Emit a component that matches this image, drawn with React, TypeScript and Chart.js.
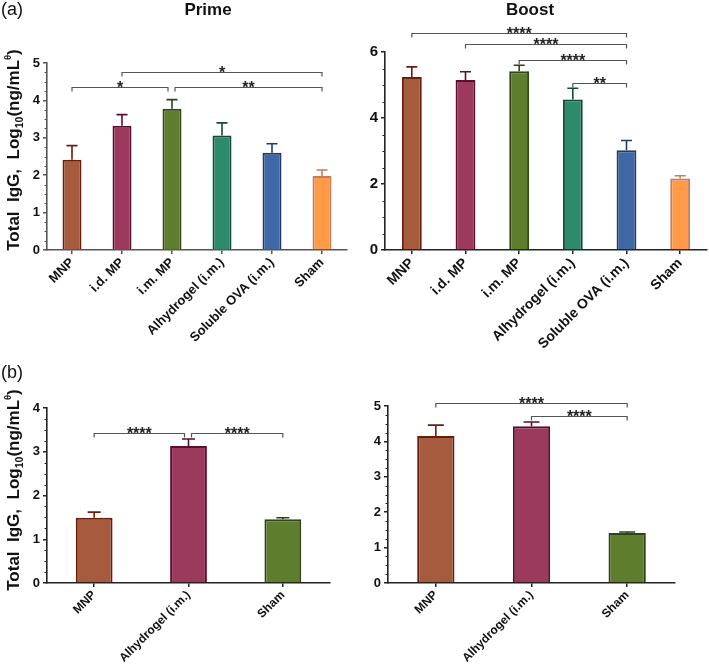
import React, { useEffect, useRef } from 'react';
import { Chart, registerables } from 'chart.js';

Chart.register(...registerables);

const FONT = "'Liberation Sans', Arial, Helvetica, sans-serif";

// ---------- data ----------
const PRIME_LABELS = ['MNP', 'i.d. MP', 'i.m. MP', 'Alhydrogel (i.m.)', 'Soluble OVA (i.m.)', 'Sham'];
const PRIME_MEANS = [2.41, 3.32, 3.78, 3.06, 2.6, 1.98];
const PRIME_ERRORS = [0.38, 0.3, 0.24, 0.34, 0.24, 0.16];

const BOOST_LABELS = ['MNP', 'i.d. MP', 'i.m. MP', 'Alhydrogel (i.m.)', 'Soluble OVA (i.m.)', 'Sham'];
const BOOST_MEANS = [5.24, 5.15, 5.42, 4.56, 3.02, 2.17];
const BOOST_ERRORS = [0.31, 0.25, 0.18, 0.34, 0.3, 0.08];

const B_LABELS = ['MNP', 'Alhydrogel (i.m.)', 'Sham'];
const B_PRIME_MEANS = [1.49, 3.13, 1.46];
const B_PRIME_ERRORS = [0.13, 0.16, 0.03];
const B_BOOST_MEANS = [4.15, 4.43, 1.41];
const B_BOOST_ERRORS = [0.31, 0.12, 0.03];

type Sig = { from: number; to: number; y: number; label: string };
const PRIME_SIG: Sig[] = [
  { from: 0, to: 2, y: 4.37, label: '*' },
  { from: 1, to: 5, y: 4.77, label: '*' },
  { from: 2, to: 5, y: 4.37, label: '**' },
];
const BOOST_SIG: Sig[] = [
  { from: 0, to: 4, y: 6.58, label: '****' },
  { from: 1, to: 4, y: 6.24, label: '****' },
  { from: 2, to: 4, y: 5.75, label: '****' },
  { from: 3, to: 4, y: 5.05, label: '**' },
];
const B_PRIME_SIG: Sig[] = [
  { from: 0, to: 1, y: 3.43, label: '****' },
  { from: 1, to: 2, y: 3.43, label: '****' },
];
const B_BOOST_SIG: Sig[] = [
  { from: 0, to: 2, y: 5.08, label: '****' },
  { from: 1, to: 2, y: 4.72, label: '****' },
];

// ---------- styles ----------
const C_MNP = { fill: '#A65A3E', border: '#6B1D0C' };
const C_ID = { fill: '#9C3A5E', border: '#5B0E2E' };
const C_IM = { fill: '#5E7E2D', border: '#2D4514' };
const C_ALHY = { fill: '#2D8B6C', border: '#124A3A' };
const C_SOL = { fill: '#4068A6', border: '#1F3B6A' };
const C_SHAM = { fill: '#FF9A47', border: '#C77B5C' };
const TOP_COLORS = [C_MNP, C_ID, C_IM, C_ALHY, C_SOL, C_SHAM];
const BOTTOM_COLORS = [C_MNP, C_ID, C_IM];

type Box = { left: number; top: number; width: number; height: number };
type Area = { left: number; top: number; right: number; bottom: number };

type Panel = {
  labels: string[];
  means: number[];
  errors: number[];
  colors: { fill: string; border: string }[];
  sig: Sig[];
  yMax: number;
  yStep: number;
  minorStep: number;
  canvas: Box;
  area: Area;
  yAxisWidth: number;
  xAxisHeight: number;
  yFont: number;
  xFont: number;
  capWidth: number;
  axisColor: string;
  starFont: number;
  barPct: number;
};

const PANELS: Panel[] = [
  {
    labels: PRIME_LABELS, means: PRIME_MEANS, errors: PRIME_ERRORS, colors: TOP_COLORS, sig: PRIME_SIG,
    yMax: 5, yStep: 1, minorStep: 0.25,
    canvas: { left: 0, top: 0, width: 355, height: 360 },
    area: { left: 47, top: 63, right: 347, bottom: 250 },
    yAxisWidth: 30, xAxisHeight: 100, yFont: 13, xFont: 13, capWidth: 11, axisColor: '#555', starFont: 16, barPct: 0.38,
  },
  {
    labels: BOOST_LABELS, means: BOOST_MEANS, errors: BOOST_ERRORS, colors: TOP_COLORS, sig: BOOST_SIG,
    yMax: 6, yStep: 2, minorStep: 0.5,
    canvas: { left: 355, top: 0, width: 354, height: 360 },
    area: { left: 385, top: 52, right: 707, bottom: 250 },
    yAxisWidth: 26, xAxisHeight: 100, yFont: 15, xFont: 14, capWidth: 11, axisColor: '#222', starFont: 16, barPct: 0.37,
  },
  {
    labels: B_LABELS, means: B_PRIME_MEANS, errors: B_PRIME_ERRORS, colors: BOTTOM_COLORS, sig: B_PRIME_SIG,
    yMax: 4, yStep: 1, minorStep: 0.25,
    canvas: { left: 0, top: 360, width: 355, height: 311 },
    area: { left: 47, top: 408, right: 330, bottom: 583 },
    yAxisWidth: 30, xAxisHeight: 80, yFont: 13, xFont: 12, capWidth: 13, axisColor: '#222', starFont: 16, barPct: 0.39,
  },
  {
    labels: B_LABELS, means: B_BOOST_MEANS, errors: B_BOOST_ERRORS, colors: BOTTOM_COLORS, sig: B_BOOST_SIG,
    yMax: 5, yStep: 1, minorStep: 0.25,
    canvas: { left: 355, top: 360, width: 354, height: 311 },
    area: { left: 388, top: 406, right: 675, bottom: 583 },
    yAxisWidth: 26, xAxisHeight: 80, yFont: 13, xFont: 12, capWidth: 16, axisColor: '#222', starFont: 16, barPct: 0.39,
  },
];

function BarPanel({ p }: { p: Panel }) {
  const ref = useRef<HTMLCanvasElement | null>(null);
  useEffect(() => {
    if (!ref.current) return;
    const { canvas, area } = p;
    const padding = {
      left: area.left - canvas.left - p.yAxisWidth,
      right: canvas.left + canvas.width - area.right,
      top: area.top - canvas.top,
      bottom: canvas.top + canvas.height - area.bottom - p.xAxisHeight,
    };

    const errorBars = {
      id: 'errorBars',
      beforeDatasetsDraw(chart: any) {
        const meta = chart.getDatasetMeta(0);
        const ys = chart.scales.y;
        const ctx = chart.ctx;
        meta.data.forEach((bar: any, i: number) => {
          const yBar = ys.getPixelForValue(p.means[i]);
          const yTop = ys.getPixelForValue(p.means[i] + p.errors[i]);
          ctx.save();
          ctx.strokeStyle = p.colors[i].border;
          ctx.lineWidth = 1.6;
          ctx.beginPath();
          ctx.moveTo(bar.x, yBar);
          ctx.lineTo(bar.x, yTop);
          ctx.moveTo(bar.x - p.capWidth / 2, yTop);
          ctx.lineTo(bar.x + p.capWidth / 2, yTop);
          ctx.stroke();
          ctx.restore();
        });
      },
    };

    const sigPlugin = {
      id: 'sigBrackets',
      afterDraw(chart: any) {
        const xs = chart.scales.x;
        const ys = chart.scales.y;
        const ctx = chart.ctx;
        p.sig.forEach((s) => {
          const shareLeft = p.sig.some((o) => o !== s && o.y === s.y && o.to === s.from);
          const shareRight = p.sig.some((o) => o !== s && o.y === s.y && o.from === s.to);
          const x1 = xs.getPixelForValue(s.from) + (shareLeft ? 3 : 0);
          const x2 = xs.getPixelForValue(s.to) - (shareRight ? 4 : 0);
          const y = Math.round(ys.getPixelForValue(s.y)) + 0.5;
          ctx.save();
          ctx.strokeStyle = '#555';
          ctx.lineWidth = 1.2;
          ctx.beginPath();
          ctx.moveTo(x1, y + 4);
          ctx.lineTo(x1, y);
          ctx.lineTo(x2, y);
          ctx.lineTo(x2, y + 4);
          ctx.stroke();
          ctx.fillStyle = '#222';
          ctx.font = `bold ${p.starFont}px ${FONT}`;
          ctx.textAlign = 'center';
          ctx.textBaseline = 'alphabetic';
          ctx.fillText(s.label, (x1 + x2) / 2, y + p.starFont * 0.4 - 0.5);
          ctx.restore();
        });
      },
    };

    const minorTicks = {
      id: 'minorTicks',
      afterDraw(chart: any) {
        const ys = chart.scales.y;
        const ctx = chart.ctx;
        const x = chart.chartArea.left;
        ctx.save();
        ctx.strokeStyle = p.axisColor;
        ctx.lineWidth = 1;
        ctx.beginPath();
        const n = Math.round(p.yMax / p.minorStep);
        for (let k = 0; k <= n; k++) {
          const v = k * p.minorStep;
          if (Math.abs(v / p.yStep - Math.round(v / p.yStep)) < 1e-6) continue;
          const y = Math.round(ys.getPixelForValue(v)) + 0.5;
          ctx.moveTo(x - 2.5, y);
          ctx.lineTo(x, y);
        }
        ctx.stroke();
        ctx.restore();
      },
    };

    const chart = new Chart(ref.current, {
      type: 'bar',
      data: {
        labels: p.labels,
        datasets: [
          {
            data: p.means,
            backgroundColor: p.colors.map((c) => c.fill),
            borderColor: p.colors.map((c) => c.border),
            borderWidth: 2,
            barPercentage: p.barPct,
            categoryPercentage: 1,
          },
        ],
      },
      options: {
        responsive: false,
        animation: false,
        devicePixelRatio: 1,
        layout: { padding, autoPadding: false } as any,
        plugins: { legend: { display: false }, tooltip: { enabled: false }, title: { display: false } },
        scales: {
          x: {
            type: 'category',
            offset: true,
            grid: { offset: false, drawOnChartArea: false, drawTicks: true, tickLength: 4, color: p.axisColor, lineWidth: 1.5 },
            border: { display: true, color: p.axisColor, width: 1.6 },
            ticks: {
              autoSkip: false,
              maxRotation: 45,
              minRotation: 45,
              padding: 1,
              color: '#111',
              font: { family: FONT, size: p.xFont, weight: 'bold' },
            },
            afterFit: (s: any) => {
              s.height = p.xAxisHeight;
            },
          },
          y: {
            min: 0,
            max: p.yMax,
            grid: { drawOnChartArea: false, drawTicks: true, tickLength: 4, color: p.axisColor, lineWidth: 1.5 },
            border: { display: true, color: p.axisColor, width: 1.6 },
            ticks: {
              stepSize: p.yStep,
              padding: 3,
              color: '#111',
              font: { family: FONT, size: p.yFont, weight: 'bold' },
            },
            afterFit: (s: any) => {
              s.width = p.yAxisWidth;
            },
          },
        },
      } as any,
      plugins: [errorBars, sigPlugin, minorTicks],
    });
    return () => chart.destroy();
  }, [p]);

  return (
    <canvas
      ref={ref}
      width={p.canvas.width}
      height={p.canvas.height}
      style={{
        position: 'absolute',
        left: p.canvas.left,
        top: p.canvas.top,
        width: p.canvas.width,
        height: p.canvas.height,
      }}
    />
  );
}

function YTitle({ cx, cy, size }: { cx: number; cy: number; size: number }) {
  return (
    <div
      style={{
        position: 'absolute',
        left: cx,
        top: cy,
        transform: 'translate(-50%, -50%) rotate(-90deg)',
        whiteSpace: 'pre',
        fontFamily: FONT,
        fontWeight: 'bold',
        fontSize: size,
        lineHeight: 1,
        color: '#111',
      }}
    >
      {'Total  IgG,  Log'}
      <span style={{ fontSize: size * 0.62, position: 'relative', top: size * 0.25 }}>10</span>
      {'(ng/mL'}
      <span style={{ fontSize: size * 0.55, position: 'relative', top: -size * 0.45 }}>θ</span>
      {')'}
    </div>
  );
}

const textBase: React.CSSProperties = {
  position: 'absolute',
  fontFamily: FONT,
  color: '#111',
  lineHeight: 1,
  whiteSpace: 'nowrap',
};

export default function App() {
  return (
    <div style={{ position: 'absolute', left: 0, top: 0, width: 709, height: 671, background: '#fff', overflow: 'hidden' }}>
      {PANELS.map((p, i) => (
        <BarPanel key={i} p={p} />
      ))}
      <div style={{ ...textBase, left: 1, top: 0, fontSize: 18 }}>(a)</div>
      <div style={{ ...textBase, left: 1, top: 363, fontSize: 18 }}>(b)</div>
      <div style={{ ...textBase, left: 208, top: 1, fontSize: 17, fontWeight: 'bold', transform: 'translateX(-50%)' }}>Prime</div>
      <div style={{ ...textBase, left: 530, top: 1, fontSize: 17, fontWeight: 'bold', transform: 'translateX(-50%)' }}>Boost</div>
      <YTitle cx={13} cy={150} size={17} />
      <YTitle cx={13} cy={490} size={17} />
    </div>
  );
}
